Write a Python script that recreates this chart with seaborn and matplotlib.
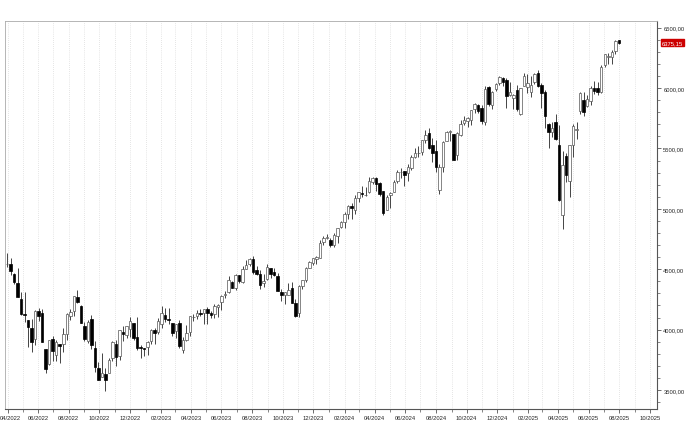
import numpy as np
import pandas as pd
import seaborn as sns
import matplotlib.dates as mdates
from matplotlib import pyplot as plt
from matplotlib.ticker import FuncFormatter, MultipleLocator
from matplotlib.transforms import ScaledTranslation

# weekly candles, week starting Monday 2022-03-28 .. 2025-07-28
first_week = "2022-03-28"
n_weeks = 175

opens = [
    4541, 4547, 4462, 4385, 4256, 4130, 4081, 4013, 3920, 4151, 4134, 3838, 3715, 3920, 3792, 3880, 3883, 3966, 4112, 4155,
    4270, 4195, 4034, 3909, 4084, 3849, 3682, 3610, 3630, 3638, 3762, 3882, 3780, 3977, 3956, 4005, 4052, 3940, 3853, 3843,
    3853, 3910, 3999, 3979, 4050, 4120, 4091, 4052, 3992, 4055, 3835, 3917, 3982, 4102, 4110, 4140, 4134, 4167, 4136, 4126,
    4190, 4226, 4283, 4311, 4397, 4344, 4450, 4394, 4506, 4543, 4585, 4491, 4460, 4386, 4420, 4510, 4473, 4445, 4310, 4285,
    4289, 4343, 4217, 4140, 4364, 4407, 4513, 4555, 4584, 4593, 4725, 4758,
    4745, 4703, 4772, 4853, 4892, 4957, 5026, 4989, 5093, 5131, 5111, 5136, 5219, 5257, 5217, 5149, 4988, 5114, 5142, 5233,
    5305, 5315, 5297, 5341, 5432, 5460, 5471, 5572, 5625, 5528, 5477, 5152, 5345, 5562, 5637, 5623, 5442, 5615, 5711, 5727,
    5737, 5826, 5857, 5833, 5723, 6008, 5861, 5992, 6040, 6084, 6063, 5940, 5920,
    5983, 5782, 6014, 6012, 5969, 6046, 6121, 6026, 5968, 5706, 5635, 5718, 5527, 4953, 5441, 5232, 5529, 5655, 5808, 5902,
    5855, 5896, 6004, 6004, 5970, 6193, 6260, 6256, 6305, 6397,
]
highs = [
    4637, 4594, 4471, 4513, 4309, 4308, 4081, 4091, 4159, 4177, 4168, 3838, 3913, 3946, 3918, 3880, 4013, 4140, 4167, 4280,
    4325, 4203, 4062, 4076, 4119, 3907, 3733, 3807, 3686, 3762, 3905, 3911, 4000, 4028, 4034, 4101, 4052, 4101, 3876, 3846,
    3907, 4004, 4015, 4095, 4195, 4176, 4176, 4052, 4048, 4079, 3937, 4039, 4110, 4133, 4164, 4170, 4171, 4187, 4154, 4212,
    4213, 4290, 4322, 4448, 4400, 4458, 4456, 4527, 4578, 4594, 4607, 4527, 4491, 4459, 4541, 4514, 4511, 4466, 4339, 4308,
    4385, 4394, 4255, 4366, 4415, 4521, 4569, 4597, 4609, 4738, 4779, 4793,
    4755, 4798, 4842, 4903, 4975, 5030, 5048, 5111, 5140, 5189, 5179, 5261, 5264, 5264, 5222, 5150, 5114, 5140, 5239, 5325,
    5342, 5315, 5375, 5447, 5505, 5524, 5570, 5655, 5670, 5585, 5566, 5370, 5563, 5643, 5651, 5623, 5636, 5734, 5767, 5757,
    5822, 5879, 5867, 5863, 6013, 6018, 5972, 6044, 6099, 6088, 6085, 6050, 5954,
    6022, 6000, 6128, 6120, 6101, 6128, 6147, 6044, 5986, 5710, 5715, 5786, 5695, 5482, 5460, 5528, 5700, 5720, 5969, 5970,
    5944, 6017, 6059, 6050, 6187, 6285, 6290, 6315, 6395, 6401,
]
lows = [
    4517, 4450, 4381, 4267, 4124, 4063, 3858, 3811, 3875, 4074, 3901, 3637, 3705, 3741, 3743, 3721, 3818, 3911, 4080, 4112,
    4218, 4057, 3907, 3886, 3838, 3647, 3584, 3610, 3491, 3647, 3740, 3698, 3750, 3907, 3933, 3940, 3918, 3828, 3765, 3784,
    3794, 3882, 3885, 3966, 4015, 4061, 4047, 3944, 3928, 3847, 3808, 3902, 3950, 4069, 4085, 4113, 4049, 4048, 4098, 4099,
    4103, 4166, 4260, 4307, 4341, 4328, 4385, 4386, 4504, 4527, 4463, 4449, 4335, 4356, 4414, 4430, 4447, 4316, 4238, 4216,
    4283, 4222, 4104, 4103, 4340, 4394, 4511, 4537, 4547, 4592, 4700, 4751,
    4682, 4682, 4714, 4842, 4845, 4918, 4920, 4954, 5057, 5095, 5104, 5131, 5204, 5146, 5107, 4953, 4987, 5011, 5142, 5212,
    5256, 5191, 5234, 5320, 5420, 5428, 5445, 5546, 5497, 5390, 5302, 5119, 5306, 5560, 5560, 5403, 5406, 5600, 5698, 5674,
    5695, 5790, 5791, 5705, 5696, 5853, 5830, 5972, 6022, 6021, 5832, 5930, 5829,
    5810, 5773, 6014, 5962, 5923, 6030, 6008, 5837, 5666, 5505, 5597, 5572, 5069, 4835, 5220, 5101, 5433, 5579, 5786, 5767,
    5843, 5861, 5952, 5946, 5958, 6174, 6201, 6201, 6282, 6365,
]
closes = [
    4546, 4488, 4392, 4272, 4132, 4123, 4023, 3901, 4158, 4109, 3901, 3675, 3912, 3825, 3899, 3863, 3962, 4130, 4145, 4280,
    4228, 4058, 3924, 4067, 3873, 3693, 3586, 3640, 3583, 3752, 3901, 3771, 3993, 3965, 4026, 4072, 3934, 3852, 3845, 3840,
    3895, 3999, 3973, 4071, 4136, 4090, 4079, 3970, 4046, 3862, 3917, 3971, 4109, 4105, 4138, 4133, 4169, 4136, 4124, 4192,
    4205, 4282, 4299, 4410, 4348, 4450, 4399, 4505, 4536, 4582, 4478, 4464, 4370, 4406, 4516, 4457, 4450, 4320, 4288, 4309,
    4327, 4224, 4117, 4358, 4415, 4514, 4559, 4595, 4604, 4719, 4755, 4770,
    4697, 4784, 4840, 4891, 4959, 5027, 5006, 5088, 5137, 5124, 5117, 5234, 5254, 5204, 5123, 4967, 5100, 5128, 5223, 5303,
    5305, 5278, 5347, 5432, 5465, 5460, 5567, 5615, 5505, 5459, 5346, 5344, 5554, 5634, 5648, 5408, 5626, 5703, 5738, 5751,
    5815, 5864, 5808, 5728, 5995, 5870, 5969, 6032, 6090, 6051, 5931, 5971, 5942,
    5827, 5997, 6101, 6041, 6026, 6115, 6013, 5955, 5770, 5639, 5668, 5581, 5074, 5363, 5283, 5525, 5687, 5660, 5958, 5803,
    5912, 6000, 5977, 5968, 6173, 6279, 6260, 6297, 6389, 6375.15,
]
last_price = 6375.15

df = pd.DataFrame({
    "date": pd.date_range(first_week, periods=n_weeks, freq="W-MON") + pd.Timedelta(days=3),
    "open": opens, "high": highs, "low": lows, "close": closes,
})
df["up"] = df["close"] >= df["open"]
df["bottom"] = df[["open", "close"]].min(axis=1)
df["body"] = (df["close"] - df["open"]).abs().clip(lower=4)

sns.set_style("white")
plt.rcParams["font.family"] = ["Liberation Sans", "DejaVu Sans"]

fig = plt.figure(figsize=(6.96, 4.39), dpi=100)
ax = fig.add_axes([5 / 696, 29 / 439, 652 / 696, 388 / 439])

x = mdates.date2num(df["date"])
ax.vlines(x, df["low"], df["high"], color="#444444", lw=0.7, zorder=2)
ax.bar(x[df["up"]], df["body"][df["up"]], bottom=df["bottom"][df["up"]], width=5,
       color="white", edgecolor="#555555", linewidth=0.5, zorder=3)
ax.bar(x[~df["up"]], df["body"][~df["up"]], bottom=df["bottom"][~df["up"]], width=5,
       color="black", edgecolor="black", linewidth=0.5, zorder=3)

ax.set_xlim(mdates.datestr2num("2022-03-27"), mdates.datestr2num("2025-10-15"))
ax.set_ylim(3343, 6555)

ax.xaxis.set_major_locator(mdates.MonthLocator(bymonth=[2, 4, 6, 8, 10, 12]))
ax.xaxis.set_major_formatter(mdates.DateFormatter("%m/%Y"))
ax.xaxis.set_minor_locator(mdates.MonthLocator())
ax.grid(which="both", axis="x", linestyle=(0, (1, 2)), color="#cccccc", lw=0.5)
ax.grid(axis="y", visible=False)

ax.yaxis.tick_right()
ax.yaxis.set_major_locator(MultipleLocator(500))
ax.yaxis.set_minor_locator(MultipleLocator(100))
ax.yaxis.set_major_formatter(FuncFormatter(lambda v, p: f"{v:.2f}".replace(".", ",")))

ax.tick_params(axis="both", which="major", labelsize=4.2, length=3, width=0.6,
               color="#555555", pad=1.5, direction="out")
ax.tick_params(axis="both", which="minor", length=2, width=0.5, color="#555555", direction="out")
ax.tick_params(axis="y", which="both", right=True, left=False)
ax.tick_params(axis="x", which="both", bottom=True)

for side in ["left", "top"]:
    ax.spines[side].set_color("#aaaaaa")
    ax.spines[side].set_linewidth(0.6)
for side in ["right", "bottom"]:
    ax.spines[side].set_color("#555555")
    ax.spines[side].set_linewidth(0.8)

ax.annotate(f"{last_price:.2f}".replace(".", ","), xy=(1, last_price),
            xycoords=("axes fraction", "data"), xytext=(3.5, 0), textcoords="offset points",
            ha="left", va="center", fontsize=4.2, color="white",
            bbox=dict(boxstyle="square,pad=0.15", fc="#cc0000", ec="#cc0000"))

# keep first date label inside the figure
fig.canvas.draw()
first_lbl = ax.xaxis.get_major_ticks()[0].label1
first_lbl.set_transform(first_lbl.get_transform() + ScaledTranslation(3 / 100, 0, fig.dpi_scale_trans))

fig.savefig("out.png", dpi=100)
